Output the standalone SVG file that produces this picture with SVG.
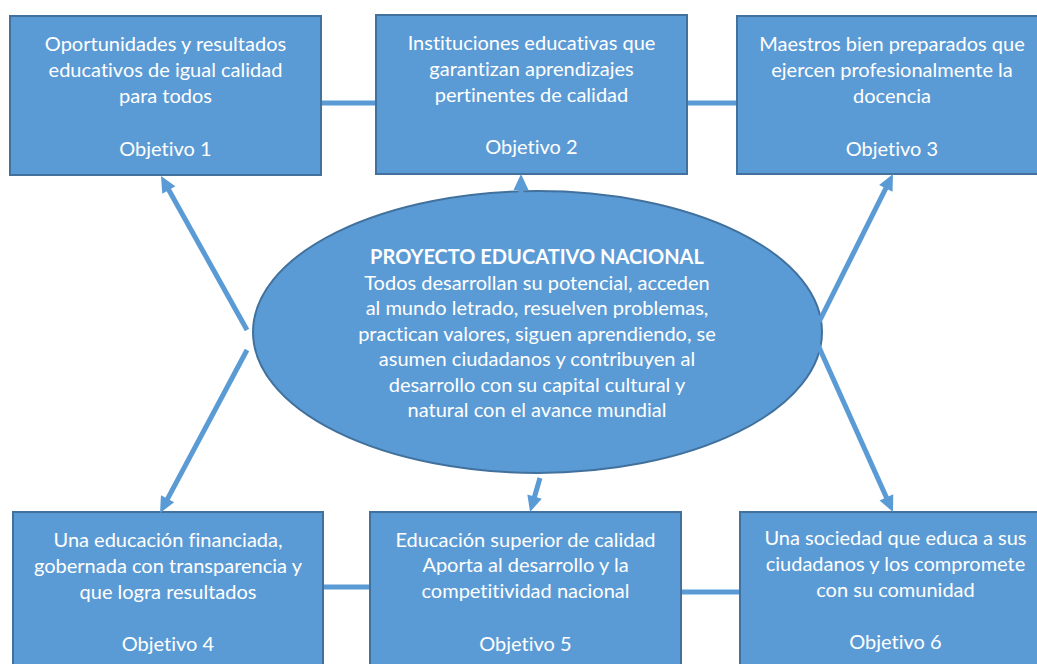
<svg xmlns="http://www.w3.org/2000/svg" width="1037" height="664" viewBox="0 0 1037 664">
<style>
.box{fill:#5B9BD5;stroke:#41719C;stroke-width:2}
.t{font-family:Lato,"Liberation Sans",sans-serif;font-size:20px;fill:#FFFFFF;text-anchor:middle;font-variant-ligatures:none}
.b{font-weight:bold}
.ln{stroke:#5B9BD5;stroke-width:5;fill:none}
.ar{stroke:#5B9BD5;stroke-width:5;fill:none;marker-end:url(#ah)}
</style>
<defs>
<marker id="ah" markerUnits="userSpaceOnUse" markerWidth="18" markerHeight="16" refX="8" refY="7.5" orient="auto" overflow="visible">
<path d="M0,0 L16,7.5 L0,15 z" fill="#5B9BD5"/>
</marker>
</defs>
<rect width="1037" height="664" fill="#FFFFFF"/>
<g id="center">
<ellipse class="box" cx="537.5" cy="332" rx="284.5" ry="141"/>
<text class="t b" x="537" y="264">PROYECTO EDUCATIVO NACIONAL</text>
<text class="t" x="537" y="290">Todos desarrollan su potencial, acceden</text>
<text class="t" x="537" y="315">al mundo letrado, resuelven problemas,</text>
<text class="t" x="537" y="341">practican valores, siguen aprendiendo, se</text>
<text class="t" x="537" y="366">asumen ciudadanos y contribuyen al</text>
<text class="t" x="537" y="392">desarrollo con su capital cultural y</text>
<text class="t" x="537" y="417">natural con el avance mundial</text>
</g>
<g id="obj1">
<rect class="box" x="10" y="16" width="311" height="159"/>
<text class="t" x="165.5" y="51">Oportunidades y resultados</text>
<text class="t" x="165.5" y="77">educativos de igual calidad</text>
<text class="t" x="165.5" y="103">para todos</text>
<text class="t" x="165.5" y="156">Objetivo 1</text>
</g>
<g id="obj2">
<rect class="box" x="376" y="15" width="311" height="159"/>
<text class="t" x="531.5" y="50">Instituciones educativas que</text>
<text class="t" x="531.5" y="76">garantizan aprendizajes</text>
<text class="t" x="531.5" y="102">pertinentes de calidad</text>
<text class="t" x="531.5" y="154">Objetivo 2</text>
</g>
<g id="obj3">
<rect class="box" x="737" y="16" width="311" height="158"/>
<text class="t" x="892" y="51">Maestros bien preparados que</text>
<text class="t" x="892" y="77">ejercen profesionalmente la</text>
<text class="t" x="892" y="103">docencia</text>
<text class="t" x="892" y="156">Objetivo 3</text>
</g>
<g id="obj4">
<rect class="box" x="13" y="512" width="310" height="170"/>
<text class="t" x="168" y="547">Una educación financiada,</text>
<text class="t" x="168" y="573">gobernada con transparencia y</text>
<text class="t" x="168" y="599">que logra resultados</text>
<text class="t" x="168" y="651">Objetivo 4</text>
</g>
<g id="obj5">
<rect class="box" x="370" y="512" width="311" height="170"/>
<text class="t" x="525.5" y="547">Educación superior de calidad</text>
<text class="t" x="525.5" y="572">Aporta al desarrollo y la</text>
<text class="t" x="525.5" y="598">competitividad nacional</text>
<text class="t" x="525.5" y="651">Objetivo 5</text>
</g>
<g id="obj6">
<rect class="box" x="740" y="512" width="311" height="170"/>
<text class="t" x="895.5" y="545">Una sociedad que educa a sus</text>
<text class="t" x="895.5" y="571">ciudadanos y los compromete</text>
<text class="t" x="895.5" y="597">con su comunidad</text>
<text class="t" x="895.5" y="649">Objetivo 6</text>
</g>
<g id="connectors">
<line class="ln" x1="322" y1="103" x2="375" y2="103"/>
<line class="ln" x1="688" y1="103" x2="736" y2="103"/>
<line class="ln" x1="324" y1="587" x2="369" y2="587"/>
<line class="ln" x1="682" y1="592" x2="739" y2="592"/>
<line class="ar" x1="247" y1="330" x2="164.9" y2="183"/>
<line class="ar" x1="521" y1="196" x2="521" y2="182"/>
<line class="ar" x1="819" y1="322" x2="889.4" y2="181.2"/>
<line class="ar" x1="247" y1="350" x2="163.8" y2="505.9"/>
<line class="ar" x1="540" y1="478" x2="532.3" y2="504.3"/>
<line class="ar" x1="818" y1="345" x2="889.7" y2="504.7"/>
</g>
</svg>
